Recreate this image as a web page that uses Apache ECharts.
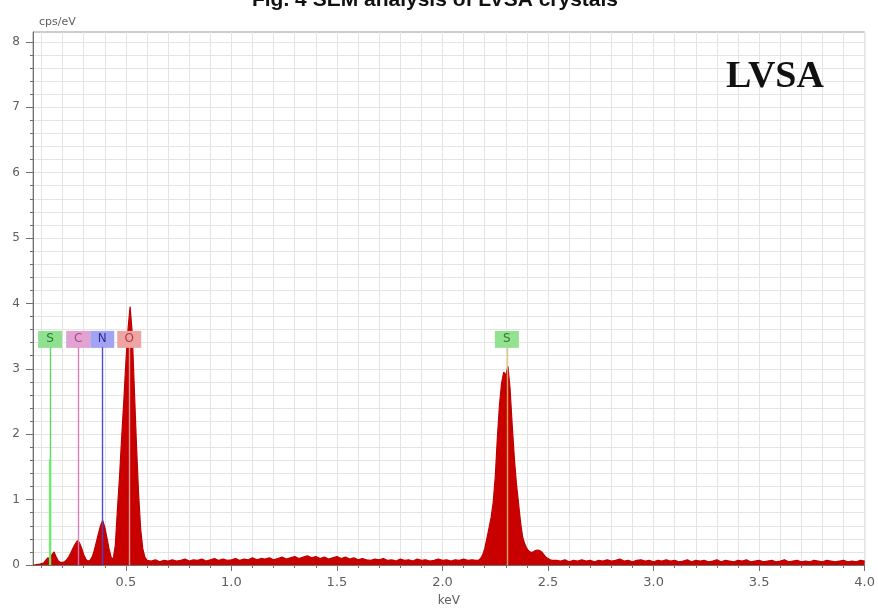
<!DOCTYPE html>
<html>
<head>
<meta charset="utf-8">
<script src="https://cdn.jsdelivr.net/npm/echarts@6/dist/echarts.min.js"></script>
<style>
  html, body { margin: 0; padding: 0; background: #fff; }
  #chart { width: 878px; height: 612px; }
</style>
</head>
<body>
<div id="chart"></div>
<script>
// EDS spectrum of LVSA crystals: energy (keV) vs intensity (cps/eV)

// Low-energy region: S L, C K, N K and O K peaks (0.01 keV steps)
var lowEnergy = [0.06,0.07,0.08,0.09,0.10,0.11,0.12,0.13,0.14,0.15,0.16,0.17,0.18,0.19,0.20,
  0.21,0.22,0.23,0.24,0.25,0.26,0.27,0.28,0.29,0.30,0.31,0.32,0.33,0.34,0.35,0.36,0.37,0.38,
  0.39,0.40,0.41,0.42,0.43,0.44,0.45,0.46,0.47,0.48,0.49,0.50,0.51,0.52,0.53,0.54,0.55,0.56,
  0.57,0.58,0.59,0.60];
var lowCps = [0.00,0.00,0.01,0.01,0.02,0.03,0.07,0.11,0.10,0.16,0.20,0.12,0.06,0.04,0.04,
  0.05,0.08,0.13,0.19,0.26,0.32,0.37,0.34,0.26,0.16,0.09,0.06,0.07,0.12,0.22,0.35,0.48,0.60,
  0.68,0.58,0.42,0.25,0.12,0.09,0.30,0.85,1.35,1.95,2.50,3.10,3.60,3.95,3.55,2.70,1.85,1.10,
  0.55,0.25,0.12,0.07];

// Background between the O and S peaks (0.02 keV steps)
var midEnergy = [0.62,0.64,0.66,0.68,0.70,0.72,0.74,0.76,0.78,0.80,0.82,0.84,0.86,0.88,0.90,
  0.92,0.94,0.96,0.98,1.00,1.02,1.04,1.06,1.08,1.10,1.12,1.14,1.16,1.18,1.20,1.22,1.24,1.26,
  1.28,1.30,1.32,1.34,1.36,1.38,1.40,1.42,1.44,1.46,1.48,1.50,1.52,1.54,1.56,1.58,1.60,1.62,
  1.64,1.66,1.68,1.70,1.72,1.74,1.76,1.78,1.80,1.82,1.84,1.86,1.88,1.90,1.92,1.94,1.96,1.98,
  2.00,2.02,2.04,2.06,2.08,2.10,2.12,2.14,2.16];
var midCps = [0.06,0.08,0.05,0.07,0.06,0.08,0.06,0.07,0.09,0.06,0.08,0.07,0.09,0.06,0.08,
  0.10,0.07,0.09,0.07,0.08,0.10,0.07,0.09,0.08,0.11,0.08,0.10,0.09,0.11,0.08,0.10,0.12,0.09,
  0.11,0.13,0.10,0.12,0.14,0.11,0.13,0.10,0.12,0.09,0.11,0.13,0.10,0.12,0.09,0.11,0.08,0.10,
  0.08,0.07,0.09,0.08,0.10,0.07,0.08,0.06,0.09,0.07,0.08,0.06,0.09,0.07,0.08,0.06,0.07,0.09,
  0.07,0.08,0.06,0.08,0.07,0.09,0.07,0.08,0.07];

// S K peak with its K-beta shoulder (0.01 keV steps)
var sulfurEnergy = [2.17,2.18,2.19,2.20,2.21,2.22,2.23,2.24,2.25,2.26,2.27,2.28,2.29,2.30,
  2.31,2.32,2.33,2.34,2.35,2.36,2.37,2.38,2.39,2.40,2.41,2.42,2.43,2.44,2.45,2.46,2.47,2.48,
  2.49,2.50,2.51,2.52];
var sulfurCps = [0.07,0.10,0.15,0.25,0.40,0.56,0.72,0.95,1.35,1.95,2.45,2.78,2.95,2.90,
  3.04,2.70,2.15,1.65,1.25,0.95,0.65,0.42,0.32,0.25,0.21,0.19,0.20,0.22,0.23,0.22,0.20,0.16,
  0.12,0.10,0.08,0.07];

// High-energy background (0.02 keV steps)
var highEnergy = [2.54,2.56,2.58,2.60,2.62,2.64,2.66,2.68,2.70,2.72,2.74,2.76,2.78,2.80,2.82,
  2.84,2.86,2.88,2.90,2.92,2.94,2.96,2.98,3.00,3.02,3.04,3.06,3.08,3.10,3.12,3.14,3.16,3.18,
  3.20,3.22,3.24,3.26,3.28,3.30,3.32,3.34,3.36,3.38,3.40,3.42,3.44,3.46,3.48,3.50,3.52,3.54,
  3.56,3.58,3.60,3.62,3.64,3.66,3.68,3.70,3.72,3.74,3.76,3.78,3.80,3.82,3.84,3.86,3.88,3.90,
  3.92,3.94,3.96,3.98,4.00];
var highCps = [0.07,0.06,0.08,0.05,0.07,0.06,0.08,0.06,0.07,0.05,0.07,0.06,0.08,0.06,0.07,
  0.09,0.06,0.07,0.05,0.07,0.08,0.06,0.07,0.05,0.07,0.06,0.08,0.06,0.07,0.05,0.06,0.08,0.05,
  0.07,0.06,0.07,0.05,0.06,0.08,0.05,0.07,0.06,0.05,0.07,0.06,0.08,0.05,0.06,0.07,0.05,0.06,
  0.07,0.05,0.06,0.08,0.05,0.06,0.07,0.05,0.06,0.05,0.07,0.06,0.05,0.07,0.06,0.05,0.06,0.07,
  0.05,0.06,0.05,0.07,0.06];

// Element identification markers
var markerElements = ['S', 'C', 'N', 'O', 'S'];
var markerEnergy = [0.141, 0.274, 0.388, 0.516, 2.305];
var markerBoxLevel = 3.45;   // cps/eV level of the label boxes
var markerLineTop = 3.33;    // marker lines run from 0 up to the boxes
var sulfurLSpike = 1.62;     // brighter lower part of the S L marker
var markerFill = ['#8fe08f', '#e2a3d2', '#a2a3f2', '#eca4a4', '#92e292'];
var markerText = ['#2f7a2f', '#a8488f', '#2d2d96', '#b83a3a', '#2f7a2f'];
var markerLine = ['rgba(80,210,80,0.9)', 'rgba(214,120,184,0.95)', 'rgba(70,70,210,0.95)',
  'rgba(245,175,175,0.85)', 'rgba(225,190,110,0.85)'];

// Axis labels
var xLabelValues = [0.5, 1.0, 1.5, 2.0, 2.5, 3.0, 3.5, 4.0];
var yLabelValues = [0, 1, 2, 3, 4, 5, 6, 7, 8];
var xMin = 0.06, xMax = 4.0, yMin = 0, yMax = 8.15;

// Minor tick positions: every 0.1 keV and every 0.2 cps/eV
var xMinorTicks = [];
for (var i = 1; i <= 40; i++) xMinorTicks.push(+(i * 0.1).toFixed(1));
var yMinorTicks = [];
for (var j = 0; j <= 40; j++) yMinorTicks.push(+(j * 0.2).toFixed(1));

var energy = lowEnergy.concat(midEnergy, sulfurEnergy, highEnergy);
var cps = lowCps.concat(midCps, sulfurCps, highCps);
var spectrum = energy.map(function (e, k) { return [e, cps[k]]; });

var boxes = markerElements.map(function (el, k) {
  return {
    value: [markerEnergy[k], markerBoxLevel],
    itemStyle: { color: markerFill[k], opacity: 1 },
    label: { color: markerText[k] },
    name: el
  };
});

var lines = markerElements.map(function (el, k) {
  return [
    { coord: [markerEnergy[k], 0], lineStyle: { color: markerLine[k], width: 1.4, type: 'solid' } },
    { coord: [markerEnergy[k], markerLineTop] }
  ];
});
lines.push([
  { coord: [markerEnergy[0], 0], lineStyle: { color: 'rgba(110,235,110,0.95)', width: 2.2, type: 'solid' } },
  { coord: [markerEnergy[0], sulfurLSpike] }
]);

var axisFont = 'DejaVu Sans';
var chart = echarts.init(document.getElementById('chart'), null, { renderer: 'canvas' });

chart.setOption({
  backgroundColor: '#ffffff',
  animation: false,
  grid: {
    left: 33, right: 13, top: 32, bottom: 47,
    show: true, borderColor: '#9a9a9a', borderWidth: 1, backgroundColor: '#fff'
  },
  xAxis: [{
    type: 'value', min: xMin, max: xMax,
    axisLine: { show: true, lineStyle: { color: '#707070' } },
    axisTick: { show: true, customValues: xMinorTicks, length: 3, lineStyle: { color: '#707070' } },
    axisLabel: { show: false },
    splitLine: { show: true, lineStyle: { color: '#e4e4e4', width: 1 } }
  }, {
    type: 'value', min: xMin, max: xMax, position: 'bottom',
    axisLine: { show: false },
    axisTick: { show: true, customValues: xLabelValues, length: 6, lineStyle: { color: '#707070' } },
    axisLabel: {
      customValues: xLabelValues, margin: 11, fontSize: 13, fontFamily: axisFont, color: '#5e5e5e',
      formatter: function (v) { return v.toFixed(1); }
    },
    splitLine: { show: false },
    name: 'keV', nameLocation: 'middle', nameGap: 30,
    nameTextStyle: { fontSize: 12, fontFamily: axisFont, color: '#5e5e5e' }
  }],
  yAxis: [{
    type: 'value', min: yMin, max: yMax,
    axisLine: { show: true, lineStyle: { color: '#707070' } },
    axisTick: { show: true, customValues: yMinorTicks, length: 3, lineStyle: { color: '#707070' } },
    axisLabel: { show: false },
    splitLine: { show: true, lineStyle: { color: '#e4e4e4', width: 1 } }
  }, {
    type: 'value', min: yMin, max: yMax, position: 'left',
    axisLine: { show: false },
    axisTick: { show: true, customValues: yLabelValues, length: 7, lineStyle: { color: '#707070' } },
    axisLabel: { customValues: yLabelValues, margin: 13, fontSize: 12, fontFamily: axisFont, color: '#5e5e5e' },
    splitLine: { show: false },
    name: 'cps/eV', nameLocation: 'end', nameGap: 4,
    nameTextStyle: { align: 'left', verticalAlign: 'bottom', padding: [0, 0, 0, 6],
      fontSize: 11, fontFamily: axisFont, color: '#5e5e5e' }
  }],
  graphic: [{
    // figure caption, partly cut by the top edge of the page
    type: 'text', x: 435, y: 11, z: 10,
    style: { text: 'Fig. 4 SEM analysis of LVSA crystals', textAlign: 'center', textVerticalAlign: 'bottom',
      font: 'bold 21px "Liberation Sans"', fill: '#111' }
  }, {
    type: 'text', x: 775, y: 77, z: 10,
    style: { text: 'LVSA', textAlign: 'center', textVerticalAlign: 'middle',
      font: 'bold 38px "Liberation Serif"', fill: '#111' }
  }],
  series: [{
    type: 'line',
    data: spectrum,
    xAxisIndex: 0, yAxisIndex: 0,
    showSymbol: false, symbol: 'none',
    lineStyle: { color: '#c00000', width: 1.2 },
    areaStyle: { color: '#c80000', opacity: 1 },
    z: 2, silent: true
  }, {
    type: 'scatter',
    data: boxes,
    xAxisIndex: 0, yAxisIndex: 0,
    symbol: 'rect', symbolSize: [24, 17],
    label: { show: true, position: 'inside', formatter: '{b}', fontSize: 12, fontFamily: axisFont },
    markLine: {
      symbol: 'none', silent: true, label: { show: false },
      data: lines
    },
    z: 4, silent: true
  }]
});
</script>
</body>
</html>
